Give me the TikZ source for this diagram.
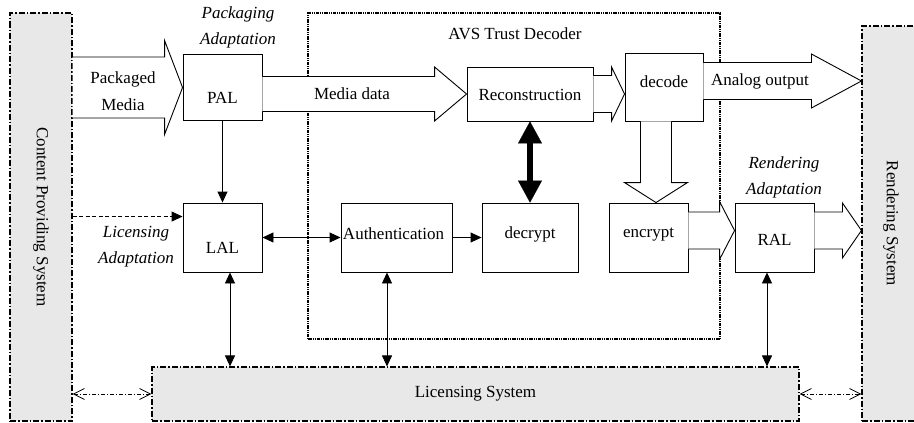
\documentclass[tikz,border=0pt]{standalone}
\usepackage{fontspec}
\usepackage{graphicx}
\setmainfont{Liberation Serif}
\usetikzlibrary{arrows.meta,calc}

% hollow block arrows: start point, tip, half shaft width, half head width, head length
\newcommand\fatright[5]{%
  \draw[fat] (#1) ++(0,-#3) -- ($(#2)+(-#5,-#3)$) -- ($(#2)+(-#5,-#4)$) -- (#2)
    -- ($(#2)+(-#5,#4)$) -- ($(#2)+(-#5,#3)$) -- ($(#1)+(0,#3)$);}
\newcommand\fatdown[5]{%
  \draw[fat] (#1) ++(-#3,0) -- ($(#2)+(-#3,-#5)$) -- ($(#2)+(-#4,-#5)$) -- (#2)
    -- ($(#2)+(#4,-#5)$) -- ($(#2)+(#3,-#5)$) -- ($(#1)+(#3,0)$);}

\begin{document}
\begin{tikzpicture}[x=1pt,y=-1pt,
  every node/.style={font=\fontsize{17}{27}\selectfont},
  box/.style={draw, line width=0.9pt, fill=white, inner sep=0pt},
  sysbox/.style={draw, fill=black!9, line width=1.1pt,
    dash pattern=on 6pt off 2pt on 1.5pt off 2pt, inner sep=0pt},
  decoder/.style={draw, line width=1.1pt,
    dash pattern=on 3.5pt off 1pt on 1pt off 1pt on 1pt off 1pt, inner sep=0pt},
  link/.style={line width=0.9pt},
  tri/.tip={Triangle[length=11pt,width=10pt]},
  barb/.tip={Straight Barb[length=11pt,width=11pt,line width=0.8pt]},
  big/.tip={Triangle[length=22pt,width=24pt,line width=0.1pt]},
  fat/.style={draw, line width=0.9pt, fill=white, line join=miter},
  adapt/.style={font=\fontsize{17}{26}\selectfont\itshape, align=center}
]
\useasboundingbox (0,0) rectangle (914,423);
\clip (0,0) rectangle (914,423);

% surrounding systems
\node[sysbox, minimum width=62, minimum height=408] (CPS) at (41,217)
  {\rotatebox{-90}{Content Providing System}};
\node[sysbox, minimum width=58, minimum height=395] (RS) at (891,223.5)
  {\rotatebox{-90}{Rendering System}};
\node[sysbox, minimum width=647, minimum height=54] (LS) at (475.5,394)
  {Licensing System};

% trusted decoder boundary
\node[decoder, minimum width=412, minimum height=326] (AVS) at (514,176) {};
\node (AVSt) at (515,34) {AVS Trust Decoder};

% functional blocks
\node[box, minimum width=79, minimum height=66,
  label={[yshift=-10pt]center:PAL}] (PAL) at (222.5,87.5) {};
\node[box, minimum width=79, minimum height=69,
  label={[yshift=-10pt]center:LAL}] (LAL) at (222.5,237.5) {};
\node[box, minimum width=111, minimum height=69,
  label={[yshift=4pt,xshift=-3pt]center:Authentication}] (Auth) at (396.5,237.5) {};
\node[box, minimum width=126, minimum height=54,
  label={[yshift=-1pt]center:Reconstruction}] (Recon) at (530,94) {};
\node[box, minimum width=96, minimum height=69,
  label={[yshift=3pt]center:decrypt}] (decrypt) at (530,237.5) {};
\node[box, minimum width=78, minimum height=68,
  label={[yshift=5pt]center:decode}] (decode) at (664,87) {};
\node[box, minimum width=79, minimum height=69,
  label={[yshift=3pt]center:encrypt}] (encrypt) at (648.5,237.5) {};
\node[box, minimum width=79, minimum height=69,
  label={[yshift=-2.5pt]center:RAL}] (RAL) at (774.5,237.5) {};

% adaptation layer captions
\node[adapt] (capP) at (238,27) {Packaging\\Adaptation};
\node[adapt] (capL) at (136,247) {Licensing\\Adaptation};
\node[adapt] (capR) at (784,177) {Rendering\\Adaptation};

% media flow (block arrows)
\fatright{CPS.east |- PAL.west}{PAL.west}{30.5}{47}{18}
\fatright{PAL.east |- Recon.west}{Recon.west}{17.5}{27}{32}
\fatright{Recon.east}{decode.west |- Recon.east}{18.5}{27}{13}
\coordinate (aout) at ($(decode.east)+(0,-6)$);
\fatright{aout}{RS.west |- aout}{18.5}{27}{50}
\coordinate (dd) at ($(decode.south)+(-8,0)$);
\fatdown{dd}{dd |- encrypt.north}{15.5}{31.5}{20}
\coordinate (eo) at ($(encrypt.east)+(0,-7)$);
\fatright{eo}{RAL.west |- eo}{18.5}{29}{15}
\coordinate (ro) at ($(RAL.east)+(0,-7)$);
\fatright{ro}{RS.west |- ro}{18.5}{27.5}{19}

\node[align=center] (pm) at (123,91) {Packaged\\Media};
\node (md) at (352,94) {Media data};
\node (ao) at (760,81) {Analog output};

% control links
\draw[link, -tri] (PAL.south) -- (LAL.north);
\coordinate (lin) at ($(LAL.north west)+(0,14)$);
\draw[link, dash pattern=on 4pt off 2.5pt, -tri] (CPS.east |- lin) -- (lin);
\draw[link, tri-tri] (LAL.east) -- (Auth.west);
\draw[link, -tri] (Auth.east) -- (decrypt.west);
\draw[line width=6pt, big-big] (Recon.south) -- (decrypt.north);

\coordinate (l1) at ($(LAL.south)+(7.5,0)$);
\coordinate (l2) at ($(Auth.south)+(-9.5,0)$);
\coordinate (l3) at ($(RAL.south)+(-7.5,0)$);
\draw[link, tri-tri] (l1) -- (l1 |- LS.north);
\draw[link, tri-tri] (l2) -- (l2 |- LS.north);
\draw[link, tri-tri] (l3) -- (l3 |- LS.north);

\draw[link, dash pattern=on 4pt off 2pt on 1pt off 2pt, barb-barb]
  (CPS.east |- LS.west) -- (LS.west);
\draw[link, dash pattern=on 4pt off 2pt on 1pt off 2pt, barb-barb]
  (LS.east) -- (RS.west |- LS.east);
\end{tikzpicture}
\end{document}
